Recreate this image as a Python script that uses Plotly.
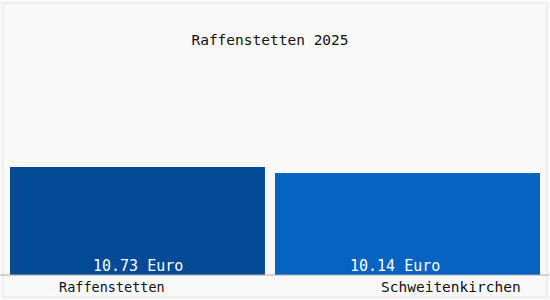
import plotly.graph_objects as go

categories = ["Raffenstetten", "Schweitenkirchen"]
values = [10.73, 10.14]
labels = ["10.73 Euro", "10.14 Euro"]
colors = ["#034a96", "#0563c1"]
title = "Raffenstetten 2025"

W, H = 550, 300
ml, mr, mt, mb = 10, 10, 60, 25
pw = W - ml - mr
ph = H - mt - mb
FONT = "DejaVu Sans Mono"

fig = go.Figure(go.Bar(
    x=categories, y=values,
    width=[0.962, 1.0], offset=[-0.5, -0.5],
    marker=dict(color=colors, line=dict(width=0)),
    cliponaxis=False, hoverinfo="skip",
))

def px(x):
    return (x - ml) / pw

def py(y):
    return (H - mb - y) / ph

label_shift = [-5, -13]
annotations = []
for c, lab, s in zip(categories, labels, label_shift):
    annotations.append(dict(
        text=lab, x=c, y=0, xref="x", yref="y", xshift=s,
        yanchor="bottom", xanchor="center", showarrow=False, yshift=-2,
        font=dict(family=FONT, size=15, color="white")))

annotations += [
    dict(text=categories[0], xref="paper", yref="paper", x=px(57), y=py(287),
         xanchor="left", yanchor="middle", showarrow=False,
         font=dict(family=FONT, size=13.5, color="#111")),
    dict(text=categories[1], xref="paper", yref="paper", x=px(523), y=py(287),
         xanchor="right", yanchor="middle", showarrow=False,
         font=dict(family=FONT, size=14.5, color="#111")),
]

fig.update_layout(
    width=W, height=H,
    margin=dict(l=ml, r=mr, t=mt, b=mb),
    paper_bgcolor="#f9f9f9", plot_bgcolor="#f9f9f9",
    showlegend=False,
    title=dict(text=title, x=px(270), xanchor="center", xref="paper",
               y=1 - 40 / H, yanchor="middle",
               font=dict(family=FONT, size=14.5, color="#111")),
    xaxis=dict(showticklabels=False, showgrid=False, zeroline=False, showline=False, ticks=""),
    yaxis=dict(range=[0, values[0] * ph / 108], visible=False, showgrid=False, zeroline=False),
    annotations=annotations,
    shapes=[
        dict(type="line", xref="paper", yref="paper", x0=px(0), x1=px(549), y0=0, y1=0,
             line=dict(color="#aaaaaa", width=1)),
        dict(type="rect", xref="paper", yref="paper", x0=px(3), x1=px(547), y0=py(297), y1=py(3),
             line=dict(color="#e4e4e4", width=1), fillcolor="rgba(0,0,0,0)", layer="below"),
    ],
)

fig.write_html("out.html")
